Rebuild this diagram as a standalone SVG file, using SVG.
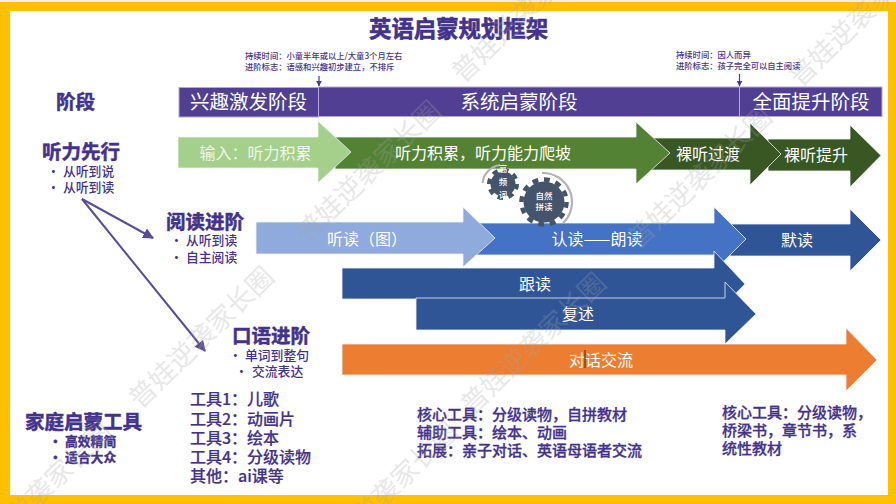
<svg xmlns="http://www.w3.org/2000/svg" width="896" height="504" viewBox="0 0 896 504">
<defs>
<style>
text{font-family:"Noto Sans CJK SC","Liberation Sans",sans-serif;fill:#43328C}
.ttl{font-size:22.4px;font-weight:700;stroke:#43328C;stroke-width:.6px}
.h{font-size:19.5px;font-weight:700;stroke:#43328C;stroke-width:.5px}
.b{font-size:12.8px;font-weight:500}
.bb{font-size:12.8px;font-weight:700;stroke:#43328C;stroke-width:.35px}
.note{font-size:8.3px;font-weight:500}
.tool{font-size:16px;font-weight:500;stroke:#43328C;stroke-width:.2px}
.tool2{font-size:15px;font-weight:500;stroke:#43328C;stroke-width:.3px}
.w{fill:#fff;text-anchor:middle}
.ph{font-size:19.5px}
.ar{font-size:16px}
.g{font-size:8.5px;fill:#fff;text-anchor:middle;font-weight:500}
.bar{fill:#503F93;stroke:#B4A7D6;stroke-width:1}
.arw{stroke:#EEF2F7;stroke-width:.8}
.wm{font-size:27px;fill:#a6a6a6;opacity:.26;font-weight:400}
.conn{stroke:#5B4C9A;stroke-width:2;fill:none}
.gear{fill:#44546A}
.teeth{fill:none;stroke:#44546A}
.arc{fill:none;stroke:#B3B3B3;stroke-width:2.2}
</style>
<marker id="head" viewBox="0 0 10 10" refX="9" refY="5" markerWidth="5.5" markerHeight="5.5" orient="auto"><path d="M0 0L10 5L0 10Z" fill="#5B4C9A"/></marker>
<marker id="small" viewBox="0 0 10 10" refX="9" refY="5" markerWidth="5" markerHeight="5" orient="auto"><path d="M0 0L10 5L0 10Z" fill="#4B3A8F"/></marker>
</defs>

<rect width="896" height="504" fill="#FFC000"/>
<rect width="896" height="2" fill="#EDEDED"/>
<rect x="10" y="11" width="878" height="484" fill="#fff"/>

<g id="title"><text class="ttl" x="369" y="37">英语启蒙规划框架</text></g>

<g id="stage-label"><text class="h" x="56" y="109">阶段</text></g>
<g id="stage-interest"><rect class="bar" x="179" y="87.500" width="139.500" height="29.500"/><text class="w ph" x="248.500" y="109">兴趣激发阶段</text></g>
<g id="stage-system"><rect class="bar" x="318.500" y="87" width="421" height="29.500"/><text class="w ph" x="519" y="108.500">系统启蒙阶段</text></g>
<g id="stage-full"><rect class="bar" x="739.500" y="87" width="142.500" height="29.500"/><text class="w ph" x="811" y="108.500">全面提升阶段</text></g>

<g id="note-1"><text class="note" x="245" y="59">持续时间：小童半年或以上/大童3个月左右</text><text class="note" x="245" y="70">进阶标志：语感和兴趣初步建立，不排斥</text></g>
<g id="note-2"><text class="note" x="676" y="58">持续时间：因人而异</text><text class="note" x="676" y="69">进阶标志：孩子完全可以自主阅读</text></g>

<g id="arrow-naked-up"><polygon class="arw" fill="#385723" points="768,139 850,139 850,125 881,155.500 850,187 850,171 768,171"/><text class="w ar" x="816" y="161">裸听提升</text></g>
<g id="arrow-naked-trans"><polygon class="arw" fill="#385723" points="650,138 750,138 750,123 781,154 750,185 750,170 650,170"/><text class="w ar" x="708" y="160">裸听过渡</text></g>
<g id="arrow-accumulate"><polygon class="arw" fill="#548235" points="335,137 636,137 636,122 670,153 636,184 636,169 335,169"/><text class="w ar" x="483" y="159">听力积累，听力能力爬坡</text></g>
<g id="arrow-input"><polygon class="arw" fill="#A5D08C" points="178,137 318,137 318,121 351,152 318,183 318,168 178,168"/><text class="w ar" x="255.500" y="159" fill-opacity=".85">输入：听力积累</text></g>

<g id="arrow-silent"><polygon class="arw" fill="#2F5597" points="730,224 850,224 850,209 881,240 850,271 850,256 730,256"/><text class="w ar" x="797" y="246">默读</text></g>
<g id="arrow-recognize"><polygon class="arw" fill="#4472C4" points="475,223 714,223 714,207 746,239 714,271 714,255 475,255"/><text class="w ar" x="597" y="245">认读——朗读</text></g>
<g id="arrow-listen-read"><polygon class="arw" fill="#8FAADC" points="256,222 463,222 463,207 495,238 463,267 463,254 256,254"/><text class="w ar" x="367" y="245">听读（图）</text></g>
<g id="arrow-follow"><polygon class="arw" fill="#2F5597" points="342,268 714,268 714,251 745,284 714,316 714,299 342,299"/><text class="w ar" x="535" y="290">跟读</text></g>
<g id="arrow-retell"><polygon class="arw" fill="#2F5597" points="416,298 725,298 725,282 756,314 725,344 725,330 416,330"/><text class="w ar" x="578" y="320">复述</text></g>
<g id="arrow-talk"><polygon class="arw" fill="#ED7D31" points="342,344 846,344 846,328 877,360 846,391 846,375 342,375"/><text class="w ar" x="601" y="366">对话交流</text><rect x="584.500" y="350" width="1" height="18" fill="#3a2a1a"/></g>

<g id="gear-words">
<path class="arc" d="M482.500 183A20.500 20.500 0 0 1 500 165"/>
<circle class="gear" cx="503" cy="184" r="12.500"/>
<circle class="teeth" cx="503" cy="184" r="14" stroke-width="4" pathLength="96" stroke-dasharray="6 6"/>
<text class="g" x="503" y="172">高</text><text class="g" x="503" y="185">频</text><text class="g" x="503" y="198">词</text>
</g>
<g id="gear-phonics">
<path class="arc" d="M542 173A29 29 0 0 1 563 223"/>
<circle class="gear" cx="544" cy="202" r="20.500"/>
<circle class="teeth" cx="544" cy="202" r="22.500" stroke-width="4.500" pathLength="120" stroke-dasharray="5 5"/>
<text class="g" x="544" y="199">自然</text><text class="g" x="544" y="210">拼读</text>
</g>

<g id="connectors">
<path class="conn" d="M82 199L153 238" marker-end="url(#head)"/>
<path class="conn" d="M82 199L205 351" marker-end="url(#head)"/>
<path stroke="#4B3A8F" stroke-width="1.200" fill="none" d="M319 76V86" marker-end="url(#small)"/>
<path stroke="#4B3A8F" stroke-width="1.200" fill="none" d="M739.500 74V86" marker-end="url(#small)"/>
</g>

<g id="listen-first"><text class="h" x="42" y="159">听力先行</text><text class="b" x="47" y="176">•</text><text class="b" x="63" y="176">从听到说</text><text class="b" x="47" y="192">•</text><text class="b" x="63" y="192">从听到读</text></g>
<g id="read-advance"><text class="h" x="166" y="229">阅读进阶</text><text class="b" x="170" y="245">•</text><text class="b" x="186" y="245">从听到读</text><text class="b" x="170" y="262">•</text><text class="b" x="186" y="262">自主阅读</text></g>
<g id="speak-advance"><text class="h" x="232" y="343">口语进阶</text><text class="b" x="229" y="360">•</text><text class="b" x="245" y="360">单词到整句</text><text class="b" x="235" y="376">•</text><text class="b" x="252" y="376">交流表达</text></g>
<g id="family-tools"><text class="h" x="25" y="429">家庭启蒙工具</text><text class="bb" x="49" y="446">•</text><text class="bb" x="65" y="446">高效精简</text><text class="bb" x="49" y="462">•</text><text class="bb" x="65" y="462">适合大众</text></g>

<g id="tools-1"><text class="tool" x="190" y="405">工具1：儿歌</text><text class="tool" x="190" y="424.500">工具2：动画片</text><text class="tool" x="190" y="443.500">工具3：绘本</text><text class="tool" x="190" y="463">工具4：分级读物</text><text class="tool" x="190" y="482">其他：ai课等</text></g>
<g id="tools-2"><text class="tool2" x="417" y="420">核心工具：分级读物，自拼教材</text><text class="tool2" x="417" y="437.500">辅助工具：绘本、动画</text><text class="tool2" x="417" y="456">拓展：亲子对话、英语母语者交流</text></g>
<g id="tools-3"><text class="tool2" x="722" y="417.500">核心工具：分级读物，</text><text class="tool2" x="722" y="436">桥梁书，章节书，系</text><text class="tool2" x="722" y="454">统性教材</text></g>

<g id="watermarks">
<text class="wm" transform="translate(307,244) rotate(-44)">普娃逆袭家长圈</text>
<text class="wm" transform="translate(140,410) rotate(-44)">普娃逆袭家长圈</text>
<text class="wm" transform="translate(472,416) rotate(-44)">普娃逆袭家长圈</text>
<text class="wm" transform="translate(638,250) rotate(-44)">普娃逆袭家长圈</text>
<text class="wm" transform="translate(463,84) rotate(-44)">普娃逆袭家长圈</text>
<text class="wm" transform="translate(800,88) rotate(-44)">普娃逆袭家长圈</text>
<text class="wm" transform="translate(-22,565) rotate(-44)">普娃逆袭家长圈</text>
<text class="wm" transform="translate(324,565) rotate(-44)">普娃逆袭家长圈</text>
</g>
</svg>
